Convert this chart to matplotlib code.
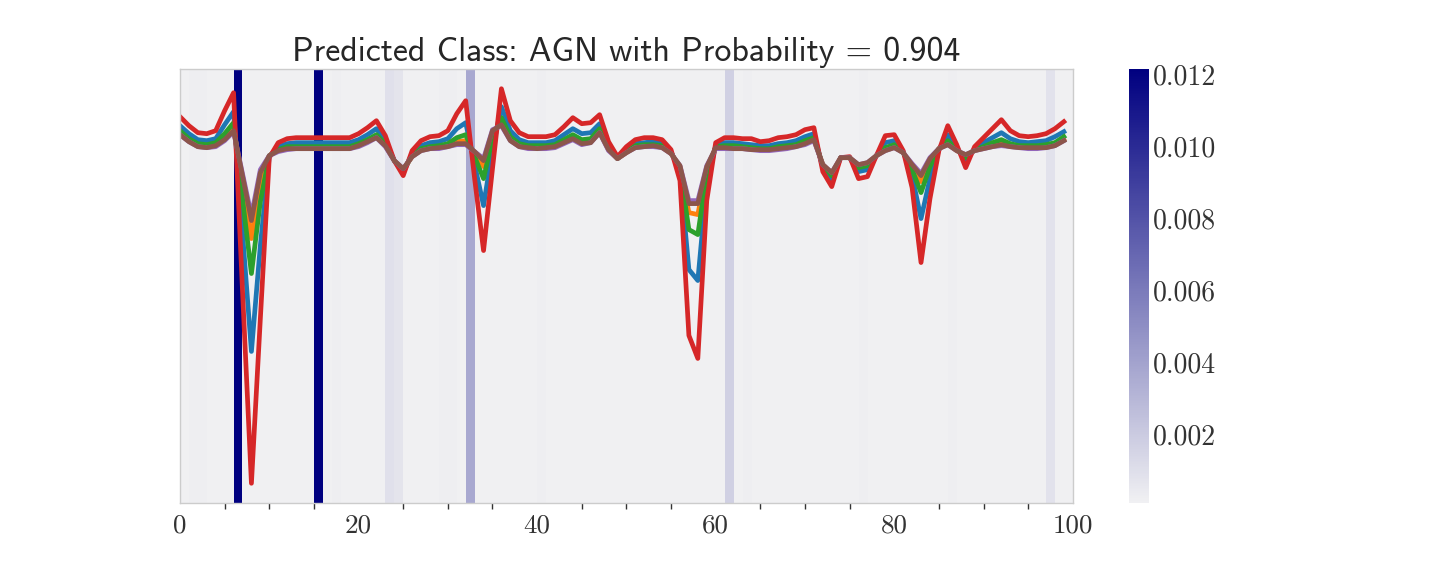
import numpy as np
import matplotlib
matplotlib.use('Agg')
import matplotlib.pyplot as plt
import seaborn as sns

# wavelength / feature index of every point
x = np.arange(100)

# the six curves (arbitrary flux units)
blue = [3.75, 3.67, 3.61, 3.60, 3.62, 3.76, 3.89, 2.68, 1.49, 2.55,
        3.44, 3.54, 3.57, 3.58, 3.58, 3.58, 3.58, 3.58, 3.58, 3.58,
        3.61, 3.66, 3.72, 3.60, 3.40, 3.28, 3.47, 3.55, 3.58, 3.59,
        3.62, 3.72, 3.78, 3.36, 2.95, 3.51, 3.94, 3.70, 3.61, 3.58,
        3.58, 3.58, 3.60, 3.66, 3.72, 3.67, 3.68, 3.77, 3.55, 3.43,
        3.51, 3.57, 3.58, 3.59, 3.57, 3.49, 3.28, 2.31, 2.20, 3.17,
        3.55, 3.58, 3.58, 3.57, 3.56, 3.55, 3.55, 3.57, 3.58, 3.60,
        3.64, 3.67, 3.33, 3.21, 3.43, 3.43, 3.29, 3.31, 3.45, 3.58,
        3.60, 3.49, 3.25, 2.82, 3.22, 3.51, 3.66, 3.53, 3.40, 3.52,
        3.58, 3.63, 3.68, 3.62, 3.59, 3.58, 3.59, 3.60, 3.64, 3.69]
orange = [3.67, 3.60, 3.55, 3.54, 3.56, 3.63, 3.73, 3.17, 2.62, 3.18,
          3.45, 3.50, 3.52, 3.53, 3.53, 3.53, 3.53, 3.53, 3.53, 3.53,
          3.55, 3.59, 3.64, 3.55, 3.40, 3.31, 3.44, 3.51, 3.53, 3.53,
          3.55, 3.59, 3.60, 3.47, 3.34, 3.67, 3.79, 3.61, 3.55, 3.54,
          3.53, 3.53, 3.54, 3.59, 3.63, 3.58, 3.60, 3.69, 3.51, 3.42,
          3.48, 3.54, 3.55, 3.55, 3.54, 3.47, 3.34, 2.88, 2.86, 3.32,
          3.53, 3.53, 3.53, 3.53, 3.52, 3.51, 3.51, 3.52, 3.53, 3.55,
          3.58, 3.61, 3.36, 3.27, 3.43, 3.43, 3.35, 3.37, 3.45, 3.51,
          3.54, 3.48, 3.34, 3.19, 3.39, 3.52, 3.57, 3.50, 3.45, 3.50,
          3.53, 3.55, 3.57, 3.55, 3.54, 3.54, 3.54, 3.54, 3.56, 3.61]
green = [3.70, 3.62, 3.57, 3.56, 3.58, 3.67, 3.78, 3.02, 2.27, 2.99,
         3.45, 3.51, 3.54, 3.54, 3.54, 3.54, 3.54, 3.54, 3.54, 3.54,
         3.57, 3.61, 3.66, 3.57, 3.40, 3.30, 3.45, 3.52, 3.54, 3.55,
         3.57, 3.63, 3.66, 3.44, 3.22, 3.62, 3.83, 3.64, 3.57, 3.55,
         3.55, 3.55, 3.56, 3.61, 3.66, 3.61, 3.62, 3.72, 3.52, 3.42,
         3.49, 3.55, 3.56, 3.56, 3.55, 3.48, 3.32, 2.71, 2.66, 3.27,
         3.54, 3.55, 3.55, 3.54, 3.53, 3.52, 3.52, 3.54, 3.55, 3.56,
         3.60, 3.63, 3.35, 3.25, 3.43, 3.43, 3.33, 3.35, 3.45, 3.53,
         3.56, 3.48, 3.31, 3.08, 3.34, 3.52, 3.60, 3.51, 3.43, 3.51,
         3.54, 3.58, 3.61, 3.57, 3.55, 3.55, 3.55, 3.56, 3.58, 3.64]
red = [3.84, 3.75, 3.68, 3.67, 3.70, 3.90, 4.08, 2.10, 0.17, 1.82,
       3.43, 3.58, 3.62, 3.63, 3.63, 3.63, 3.63, 3.63, 3.63, 3.63,
       3.67, 3.73, 3.80, 3.65, 3.40, 3.25, 3.50, 3.60, 3.64, 3.65,
       3.70, 3.87, 4.00, 3.22, 2.50, 3.32, 4.12, 3.80, 3.68, 3.64,
       3.64, 3.64, 3.66, 3.74, 3.83, 3.77, 3.78, 3.86, 3.59, 3.44,
       3.54, 3.61, 3.63, 3.63, 3.61, 3.51, 3.20, 1.65, 1.42, 3.00,
       3.58, 3.63, 3.63, 3.62, 3.62, 3.59, 3.60, 3.63, 3.64, 3.66,
       3.71, 3.73, 3.29, 3.14, 3.43, 3.44, 3.22, 3.24, 3.45, 3.65,
       3.66, 3.50, 3.13, 2.38, 3.02, 3.50, 3.75, 3.56, 3.33, 3.54,
       3.63, 3.72, 3.81, 3.70, 3.65, 3.64, 3.65, 3.67, 3.72, 3.79]
purple = [3.66, 3.59, 3.54, 3.53, 3.54, 3.60, 3.69, 3.27, 2.85, 3.31,
          3.45, 3.49, 3.51, 3.52, 3.52, 3.52, 3.52, 3.52, 3.52, 3.52,
          3.54, 3.58, 3.63, 3.54, 3.40, 3.32, 3.44, 3.50, 3.52, 3.52,
          3.54, 3.56, 3.56, 3.49, 3.42, 3.71, 3.75, 3.60, 3.54, 3.52,
          3.52, 3.52, 3.53, 3.57, 3.61, 3.56, 3.58, 3.68, 3.50, 3.42,
          3.48, 3.53, 3.54, 3.54, 3.53, 3.47, 3.35, 3.00, 3.00, 3.35,
          3.52, 3.52, 3.52, 3.52, 3.51, 3.50, 3.50, 3.51, 3.52, 3.54,
          3.56, 3.60, 3.36, 3.28, 3.43, 3.43, 3.36, 3.38, 3.45, 3.50,
          3.53, 3.48, 3.37, 3.27, 3.43, 3.52, 3.56, 3.50, 3.46, 3.50,
          3.52, 3.54, 3.55, 3.54, 3.53, 3.52, 3.52, 3.53, 3.55, 3.60]
brown = [3.66, 3.59, 3.54, 3.53, 3.55, 3.61, 3.70, 3.25, 2.80, 3.28,
         3.45, 3.50, 3.52, 3.52, 3.52, 3.52, 3.52, 3.52, 3.52, 3.52,
         3.55, 3.59, 3.63, 3.55, 3.40, 3.32, 3.44, 3.50, 3.52, 3.53,
         3.54, 3.57, 3.57, 3.49, 3.40, 3.70, 3.76, 3.60, 3.54, 3.53,
         3.52, 3.53, 3.54, 3.58, 3.62, 3.57, 3.58, 3.68, 3.51, 3.42,
         3.48, 3.53, 3.54, 3.55, 3.53, 3.47, 3.35, 2.97, 2.97, 3.34,
         3.53, 3.53, 3.52, 3.52, 3.51, 3.51, 3.51, 3.52, 3.53, 3.54,
         3.57, 3.61, 3.36, 3.28, 3.43, 3.43, 3.36, 3.38, 3.45, 3.50,
         3.53, 3.48, 3.36, 3.25, 3.42, 3.52, 3.56, 3.50, 3.46, 3.50,
         3.52, 3.54, 3.56, 3.54, 3.53, 3.53, 3.53, 3.53, 3.55, 3.60]

# attribution of every feature (background strip)
attribution = [0.00010, 0.00018, 0.00018, 0.00012, 0.00010, 0.00012, 0.01214, 0.00010, 0.00008, 0.00010,
               0.00010, 0.00010, 0.00010, 0.00010, 0.00010, 0.01210, 0.00010, 0.00018, 0.00010, 0.00010,
               0.00010, 0.00010, 0.00010, 0.00090, 0.00070, 0.00010, 0.00010, 0.00010, 0.00010, 0.00022,
               0.00022, 0.00010, 0.00370, 0.00010, 0.00010, 0.00010, 0.00010, 0.00010, 0.00010, 0.00010,
               0.00020, 0.00010, 0.00010, 0.00010, 0.00010, 0.00010, 0.00010, 0.00010, 0.00010, 0.00010,
               0.00010, 0.00010, 0.00010, 0.00010, 0.00010, 0.00010, 0.00010, 0.00010, 0.00010, 0.00010,
               0.00010, 0.00170, 0.00010, 0.00020, 0.00010, 0.00010, 0.00010, 0.00010, 0.00010, 0.00010,
               0.00010, 0.00010, 0.00010, 0.00010, 0.00010, 0.00010, 0.00018, 0.00010, 0.00010, 0.00010,
               0.00010, 0.00010, 0.00010, 0.00010, 0.00010, 0.00010, 0.00018, 0.00010, 0.00010, 0.00010,
               0.00010, 0.00010, 0.00010, 0.00010, 0.00010, 0.00010, 0.00010, 0.00080, 0.00010, 0.00010]

cbar_ticks = [0.002, 0.004, 0.006, 0.008, 0.010, 0.012]
title = 'Predicted Class: AGN with Probability = 0.904'

series = [blue, orange, green, red, purple, brown]
colours = ['tab:blue', 'tab:orange', 'tab:green', 'tab:red', 'tab:purple', 'tab:brown']

fig = plt.figure(figsize=(14.4, 5.76), dpi=100)
ax = fig.add_axes([0.125, 0.1267, 0.62, 0.7535])
cax = fig.add_axes([0.784, 0.1267, 0.0139, 0.7535])

# curves first so the y range comes from the data
for ys, c in zip(series, colours):
    ax.plot(x, ys, color=c, linewidth=3.4, zorder=2)
y0, y1 = ax.get_ylim()

# attribution strip behind the curves
cmap = sns.light_palette('navy', as_cmap=True)
im = ax.imshow(np.array(attribution)[np.newaxis, :], cmap=cmap, aspect='auto',
               extent=[0, 100, y0, y1], zorder=0, interpolation='nearest')
ax.set_xlim(0, 100)
ax.set_ylim(y0, y1)

# axes decoration
ax.set_yticks([])
ax.set_xticks([0, 20, 40, 60, 80, 100])
ax.set_xticks([5, 10, 15, 25, 30, 35, 45, 50, 55, 65, 70, 75, 85, 90, 95], minor=True)
ax.tick_params(axis='x', which='major', length=0, pad=8)
ax.tick_params(axis='x', which='minor', length=4, width=1, color='#333333')
for lab in ax.get_xticklabels():
    lab.set_fontfamily('cmr10')
    lab.set_fontsize(19.5)
    lab.set_color('#333333')
for sp in ax.spines.values():
    sp.set_color('#cccccc')
    sp.set_linewidth(1)
ax.set_title(title, fontfamily='cmss10', fontsize=24.4, color='#262626', pad=6)

# colour bar
cb = fig.colorbar(im, cax=cax)
cb.outline.set_visible(False)
cb.set_ticks(cbar_ticks)
cb.set_ticklabels(['%.3f' % t for t in cbar_ticks])
cax.tick_params(length=0, pad=3)
for lab in cax.get_yticklabels():
    lab.set_fontfamily('cmr10')
    lab.set_fontsize(20)
    lab.set_color('#333333')

fig.savefig('out.png', dpi=100)
